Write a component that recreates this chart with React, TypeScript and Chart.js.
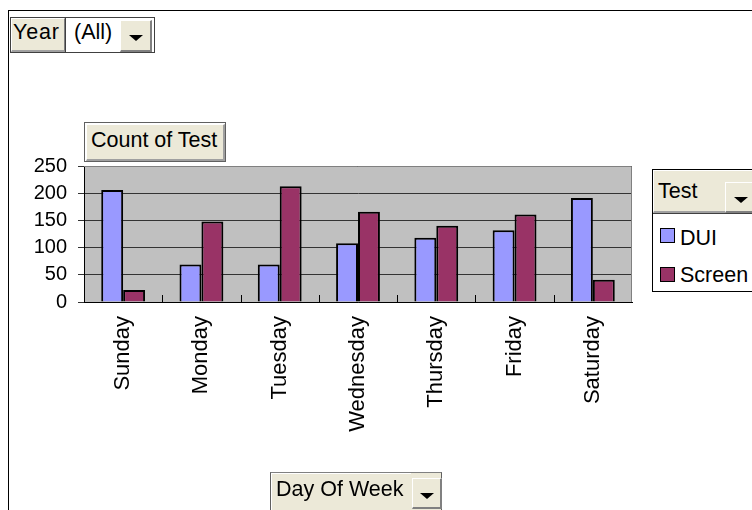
import React, { useEffect, useRef } from "react";
import { Chart, registerables } from "chart.js";

Chart.register(...registerables);

const days = ["Sunday", "Monday", "Tuesday", "Wednesday", "Thursday", "Friday", "Saturday"];
const duiCounts = [206, 69, 69, 108, 118, 132, 191];
const screenCounts = [22, 148, 213, 166, 140, 161, 41];
const seriesNames = ["DUI", "Screen"];
const seriesColors = ["#9999FF", "#993366"];
const yTicks = [0, 50, 100, 150, 200, 250];

const FONT = "'Liberation Sans', Arial, sans-serif";

const plotDecor = {
  id: "plotDecor",
  beforeDraw(chart: any) {
    const { ctx, chartArea: a } = chart;
    ctx.save();
    ctx.fillStyle = "#C0C0C0";
    ctx.fillRect(a.left, a.top, a.right - a.left, a.bottom - a.top);
    ctx.restore();
  },
  afterDatasetsDraw(chart: any) {
    const { ctx, chartArea: a } = chart;
    const xs = chart.scales.x;
    ctx.save();
    ctx.strokeStyle = "#808080";
    ctx.lineWidth = 1;
    ctx.beginPath();
    ctx.moveTo(a.left, a.top + 0.5);
    ctx.lineTo(a.right - 0.5, a.top + 0.5);
    ctx.lineTo(a.right - 0.5, a.bottom);
    ctx.stroke();
    ctx.strokeStyle = "#000";
    ctx.beginPath();
    for (let i = 0; i < days.length - 1; i++) {
      const x = Math.round((xs.getPixelForValue(i) + xs.getPixelForValue(i + 1)) / 2) + 0.5;
      ctx.moveTo(x, a.bottom);
      ctx.lineTo(x, a.bottom - 7);
    }
    ctx.stroke();
    ctx.restore();
  },
};

const beige = "#ECE9D8";

function DropBtn({ style }: { style: React.CSSProperties }) {
  return (
    <div
      style={{
        position: "absolute",
        background: beige,
        boxSizing: "border-box",
        borderTop: "1px solid #fff",
        borderLeft: "1px solid #fff",
        borderRight: "2px solid #808080",
        borderBottom: "2px solid #808080",
        display: "flex",
        alignItems: "center",
        justifyContent: "center",
        ...style,
      }}
    >
      <div
        style={{
          width: 0,
          height: 0,
          marginTop: 5,
          borderLeft: "7px solid transparent",
          borderRight: "7px solid transparent",
          borderTop: "6px solid #000",
        }}
      />
    </div>
  );
}

const txt: React.CSSProperties = {
  position: "absolute",
  fontFamily: FONT,
  fontSize: 21.5,
  color: "#000",
  whiteSpace: "nowrap",
  lineHeight: "22px",
};

export default function App() {
  const ref = useRef<HTMLCanvasElement>(null);

  useEffect(() => {
    if (!ref.current) return;
    const chart = new Chart(ref.current, {
      type: "bar",
      data: {
        labels: days,
        datasets: [
          {
            label: seriesNames[0],
            data: duiCounts,
            backgroundColor: seriesColors[0],
            borderColor: "#000",
            borderWidth: 2,
            categoryPercentage: 0.56,
            barPercentage: 1,
          },
          {
            label: seriesNames[1],
            data: screenCounts,
            backgroundColor: seriesColors[1],
            borderColor: "#000",
            borderWidth: 2,
            categoryPercentage: 0.56,
            barPercentage: 1,
          },
        ],
      },
      options: {
        responsive: false,
        animation: false,
        layout: { padding: { top: 166, right: 120, bottom: 0, left: 0 } },
        plugins: { legend: { display: false }, tooltip: { enabled: false } },
        scales: {
          x: {
            grid: { display: false, drawTicks: false },
            border: { display: true, color: "#000", width: 1 },
            ticks: {
              maxRotation: 90,
              minRotation: 90,
              padding: 14,
              color: "#000",
              font: { family: FONT, size: 22 },
            },
            afterFit(scale: any) {
              scale.height = 208;
            },
          },
          y: {
            min: 0,
            max: 250,
            afterBuildTicks(scale: any) {
              scale.ticks = yTicks.map((v) => ({ value: v }));
            },
            grid: { color: "#333", tickLength: 6, drawTicks: true },
            border: { display: true, color: "#000", width: 1 },
            ticks: {
              padding: 11,
              color: "#000",
              font: { family: FONT, size: 20 },
            },
            afterFit(scale: any) {
              scale.width = 84;
            },
          },
        },
      },
      plugins: [plotDecor],
    } as any);
    return () => chart.destroy();
  }, []);

  return (
    <div
      style={{
        position: "absolute",
        left: 0,
        top: 0,
        width: 752,
        height: 510,
        overflow: "hidden",
        background: "#fff",
      }}
    >
      <canvas ref={ref} width={752} height={510} style={{ position: "absolute", left: 0, top: 0 }} />
      {/* outer frame */}
      <div
        style={{
          position: "absolute",
          left: 8,
          top: 10,
          width: 800,
          height: 600,
          borderTop: "1px solid #000",
          borderLeft: "1px solid #000",
        }}
      />
      {/* Year page field */}
      <div
        style={{
          position: "absolute",
          left: 10,
          top: 17,
          width: 145,
          height: 36,
          boxSizing: "border-box",
          border: "1px solid #404040",
          background: "#fff",
        }}
      />
      <div
        style={{
          position: "absolute",
          left: 11,
          top: 18,
          width: 54,
          height: 34,
          boxSizing: "border-box",
          background: beige,
          borderTop: "1px solid #fff",
          borderLeft: "1px solid #fff",
          borderRight: "1px solid #808080",
          borderBottom: "2px solid #A0A0A0",
        }}
      />
      <div style={{ ...txt, left: 13, top: 21, letterSpacing: 0.8 }}>Year</div>
      <div style={{ position: "absolute", left: 65, top: 18, width: 1, height: 34, background: "#404040" }} />
      <div style={{ ...txt, left: 74, top: 21 }}>(All)</div>
      <DropBtn style={{ left: 120, top: 20, width: 32, height: 32 }} />

      {/* Count of Test field */}
      <div
        style={{
          position: "absolute",
          left: 84,
          top: 122,
          width: 142,
          height: 40,
          boxSizing: "border-box",
          border: "1px solid #606060",
          background: "#fff",
        }}
      />
      <div
        style={{
          position: "absolute",
          left: 86,
          top: 124,
          width: 139,
          height: 37,
          boxSizing: "border-box",
          background: beige,
          borderTop: "1px solid #fff",
          borderLeft: "1px solid #fff",
          borderRight: "2px solid #A0A0A0",
          borderBottom: "2px solid #A0A0A0",
        }}
      />
      <div style={{ ...txt, left: 91, top: 128.5 }}>Count of Test</div>

      {/* Legend */}
      <div
        style={{
          position: "absolute",
          left: 652,
          top: 169,
          width: 120,
          height: 123,
          boxSizing: "border-box",
          border: "1px solid #000",
          background: "#fff",
        }}
      />
      <div
        style={{
          position: "absolute",
          left: 653,
          top: 170,
          width: 110,
          height: 43,
          boxSizing: "border-box",
          background: beige,
          borderTop: "1px solid #fff",
          borderLeft: "1px solid #fff",
          borderBottom: "2px solid #A0A0A0",
        }}
      />
      <div style={{ position: "absolute", left: 653, top: 213, width: 110, height: 1, background: "#404040" }} />
      <div style={{ ...txt, left: 658, top: 180 }}>Test</div>
      <DropBtn style={{ left: 725, top: 182, width: 32, height: 31 }} />
      <div
        style={{
          position: "absolute",
          left: 660,
          top: 228,
          width: 15,
          height: 15,
          boxSizing: "border-box",
          border: "1px solid #000",
          background: seriesColors[0],
        }}
      />
      <div style={{ ...txt, left: 680, top: 226.5 }}>{seriesNames[0]}</div>
      <div
        style={{
          position: "absolute",
          left: 660,
          top: 267,
          width: 15,
          height: 15,
          boxSizing: "border-box",
          border: "1px solid #000",
          background: seriesColors[1],
        }}
      />
      <div style={{ ...txt, left: 680, top: 264 }}>{seriesNames[1]}</div>

      {/* Day Of Week field */}
      <div
        style={{
          position: "absolute",
          left: 270,
          top: 472,
          width: 172,
          height: 40,
          boxSizing: "border-box",
          border: "1px solid #606060",
          background: beige,
          borderTopColor: "#808080",
        }}
      />
      <div
        style={{
          position: "absolute",
          left: 271,
          top: 473,
          width: 140,
          height: 37,
          boxSizing: "border-box",
          borderTop: "1px solid #fff",
          borderLeft: "1px solid #fff",
        }}
      />
      <div style={{ ...txt, left: 276, top: 477.5 }}>Day Of Week</div>
      <DropBtn style={{ left: 412, top: 478, width: 30, height: 31 }} />
    </div>
  );
}
